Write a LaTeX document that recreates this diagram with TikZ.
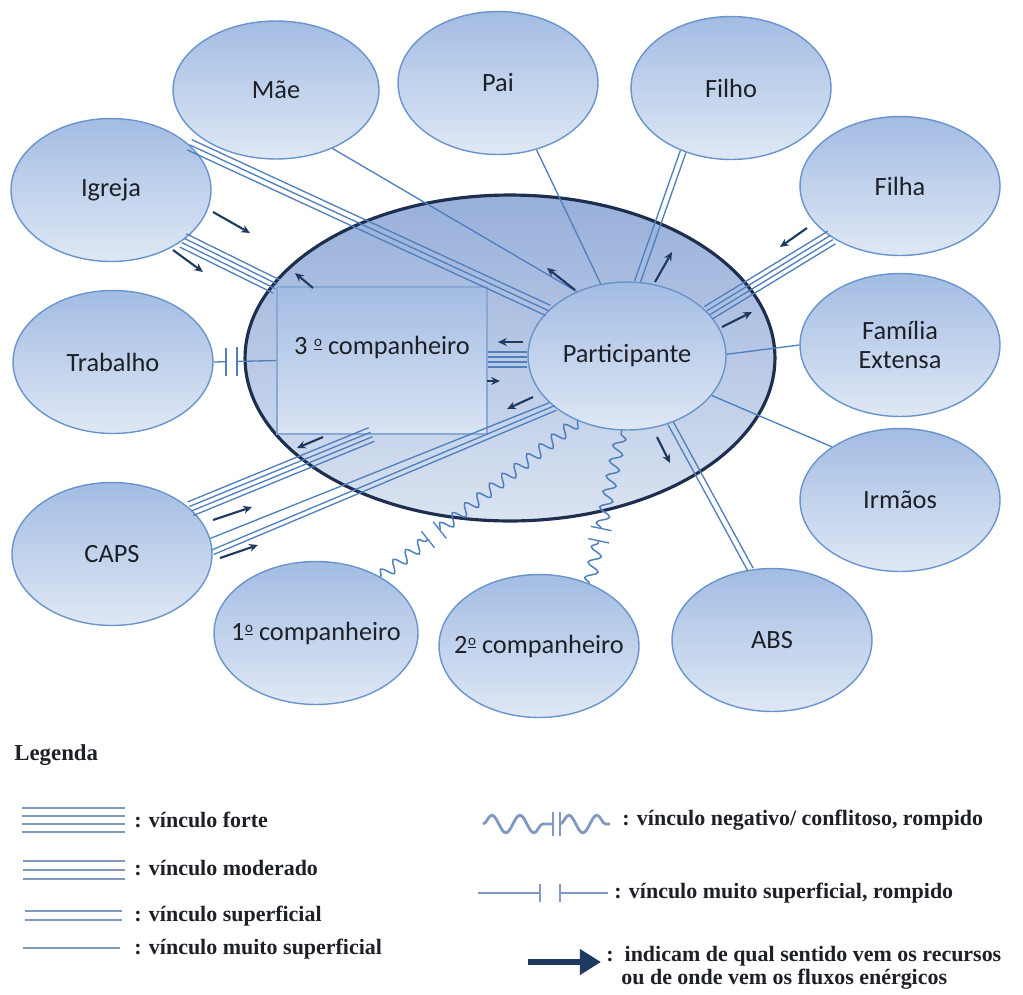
\documentclass[tikz,border=0pt]{standalone}
\usepackage{fontspec}
\setmainfont{Liberation Serif}
\newfontfamily\calib{Carlito}
\usepackage{tikz}
\usetikzlibrary{shapes.geometric, arrows.meta, calc, decorations.pathmorphing}

\definecolor{tieblue}{HTML}{4F7FBE}
\definecolor{rimblue}{HTML}{6A94CC}
\definecolor{fillhi}{HTML}{A3BCE3}
\definecolor{filllo}{HTML}{DFE8F5}
\definecolor{ringhi}{HTML}{97AFDA}
\definecolor{ringlo}{HTML}{DAE3F1}
\definecolor{ringline}{HTML}{1E2E4E}
\definecolor{navyarrow}{HTML}{1F3A60}
\definecolor{keyline}{HTML}{8199C0}
\definecolor{inktext}{HTML}{1E2028}

\newcommand{\ordo}{\raisebox{0.62ex}{\fontsize{8.5}{9}\selectfont\kern0.4pt\underline{o}}}

\begin{document}
\begin{tikzpicture}[x=0.02cm, y=-0.02cm,
        pers/.style = {ellipse, draw=rimblue, line width=0.8pt, top color=fillhi, bottom color=filllo,
                       minimum width=4cm, minimum height=2.86cm, inner ysep=0pt, inner xsep=-12pt, align=center,
                       font=\calib\fontsize{15}{17}\selectfont, text=inktext},
        tie/.style = {draw=tieblue, line width=0.75pt},
        flow/.style = {draw=navyarrow, line width=1.2pt, -{Stealth[length=5pt, width=4.5pt]}},
        conflict/.style = {tie, line width=0.85pt, decorate, decoration={snake, amplitude=3.4pt, segment length=9pt}},
        key/.style = {draw=keyline, line width=1.6pt},
        keytext/.style = {anchor=west, inner sep=0pt, font=\bfseries\fontsize{12.5}{15}\selectfont, text=inktext}]

        \fill[white] (0,0) rectangle (1023,994);
        \useasboundingbox (0,0) rectangle (1023,994);

        % Rede central
        \node[ellipse, draw=ringline, line width=1.8pt, top color=ringhi, bottom color=ringlo,
              minimum width=10.6cm, minimum height=6.52cm] (rede) at (510,358) {};
        \node[rectangle, draw=rimblue!80, line width=0.6pt, top color=fillhi, bottom color=filllo!90!fillhi,
              minimum width=4.2cm, minimum height=2.94cm, text height=10pt, text depth=17pt,
              font=\calib\fontsize{15}{17}\selectfont, text=inktext] (comp3) at (382,360.5) {3 \ordo\ companheiro};
        \node[pers, minimum width=3.96cm, minimum height=2.96cm] (part) at (627,356) {Participante};

        % Pessoas e instituições
        \node[pers, minimum width=4.12cm, minimum height=2.76cm] (mae) at (276,90) {Mãe};
        \node[pers] (pai) at (498,83) {Pai};
        \node[pers] (filho) at (731,88) {Filho};
        \node[pers] (igreja) at (111,190) {Igreja};
        \node[pers, minimum height=2.78cm] (filha) at (900,186) {Filha};
        \node[pers] (trab) at (113,362) {Trabalho};
        \node[pers] (famext) at (900,345) {Família\\Extensa};
        \node[pers] (irmaos) at (900,500) {Irmãos};
        \node[pers] (caps) at (112,554) {CAPS};
        \node[pers, minimum width=4.08cm] (comp1) at (316,633) {1\ordo\ companheiro};
        \node[pers] (comp2) at (539,646) {2\ordo\ companheiro};
        \node[pers] (abs) at (772,640) {ABS};

        % Vínculos
        \foreach \o in {-3.2,0,3.2}
            \draw[tie] ($(igreja.30)!\o pt!90:(part.150)$) -- ($(part.150)!\o pt!-90:(igreja.30)$);
        \foreach \o in {-4.2,-1.4,1.4,4.2}
            \draw[tie] ($(igreja.-35)!\o pt!90:(comp3.north west)$) -- ($(comp3.north west)!\o pt!-90:(igreja.-35)$);
        \draw[tie] (mae.-46) -- (part.128);
        \draw[tie] (pai.-60) -- (part.110);
        \foreach \o in {-1.7,1.7}
            \draw[tie] ($(filho.-127)!\o pt!90:(part.82)$) -- ($(part.82)!\o pt!-90:(filho.-127)$);
        \foreach \o in {-4.2,-1.4,1.4,4.2}
            \draw[tie] ($(filha.-143)!\o pt!90:(part.28)$) -- ($(part.28)!\o pt!-90:(filha.-143)$);
        \draw[tie] (famext.180) -- (part.1);
        \draw[tie] (irmaos.142) -- (part.-25);
        \foreach \o in {-1.7,1.7}
            \draw[tie] ($(abs.107)!\o pt!90:(part.-57)$) -- ($(part.-57)!\o pt!-90:(abs.107)$);
        \coordinate (capsend) at ($(comp3.south west)!0.45!(comp3.south east)$);
        \foreach \o in {-4.2,-1.4,1.4,4.2}
            \draw[tie] ($(caps.30)!\o pt!90:(capsend)$) -- ($(capsend)!\o pt!-90:(caps.30)$);
        \draw[tie] (caps.9) -- (part.-149);
        \foreach \o in {-1.4,1.4}
            \draw[tie] ($(caps.1)!\o pt!90:(part.-144)$) -- ($(part.-144)!\o pt!-90:(caps.1)$);
        \coordinate (compend) at (part.182 -| comp3.east);
        \foreach \o in {-4.2,-1.4,1.4,4.2}
            \draw[tie] ($(part.182)!\o pt!90:(compend)$) -- ($(compend)!\o pt!-90:(part.182)$);

        % Trabalho: vínculo rompido
        \coordinate (cut1) at ($(trab.east)!0.19!(comp3.west)$);
        \coordinate (cut2) at ($(trab.east)!0.375!(comp3.west)$);
        \draw[tie] (trab.east) -- (cut1);
        \draw[tie] (cut2) -- (comp3.west);
        \draw[tie, line width=1.2pt] ([yshift=-8pt]cut1) -- ([yshift=8pt]cut1);
        \draw[tie, line width=1.2pt] ([yshift=-8pt]cut2) -- ([yshift=8pt]cut2);

        % Conflitos rompidos
        \coordinate (z1a) at ($(comp1.41)!0.24!(part.-127)$);
        \coordinate (z1b) at ($(comp1.41)!0.30!(part.-127)$);
        \draw[conflict] (comp1.41) -- (z1a);
        \draw[conflict] (z1b) -- (part.-127);
        \draw[tie] ($(z1a)!6pt!90:(part.-127)$) -- ($(z1a)!6pt!-90:(part.-127)$);
        \draw[tie] ($(z1b)!6pt!90:(part.-127)$) -- ($(z1b)!6pt!-90:(part.-127)$);
        \coordinate (z2a) at ($(comp2.51)!0.28!(part.-94)$);
        \coordinate (z2b) at ($(comp2.51)!0.36!(part.-94)$);
        \draw[conflict] (comp2.51) -- (z2a);
        \draw[conflict] (z2b) -- (part.-94);
        \draw[tie] ($(z2a)!6pt!90:(part.-94)$) -- ($(z2a)!6pt!-90:(part.-94)$);
        \draw[tie] ($(z2b)!6pt!90:(part.-94)$) -- ($(z2b)!6pt!-90:(part.-94)$);

        % Fluxos
        \draw[flow] (213,212) -- (250,233);
        \draw[flow] (173,250) -- (203,272);
        \draw[flow] (313,288) -- (295,273);
        \draw[flow] (575,290) -- (547,268);
        \draw[flow] (655,282) -- (672,252);
        \draw[flow] (807,228) -- (780,247);
        \draw[flow] (722,327) -- (752,312);
        \draw[flow] (523,342) -- (498,342);
        \draw[flow] (487,381) -- (500,381);
        \draw[flow] (533,397) -- (507,409);
        \draw[flow] (323,437) -- (297,448);
        \draw[flow] (213,520) -- (252,507);
        \draw[flow] (220,558) -- (258,545);
        \draw[flow] (657,437) -- (670,463);

        % Legenda
        \node[keytext, font=\bfseries\fontsize{13}{15}\selectfont] (leg) at (14,755) {Legenda};
        \foreach \y in {808,816,824,832} \draw[key] (22,\y) -- (125,\y);
        \node[keytext] (lforte) at (134,820) {: vínculo forte};
        \foreach \y in {861,870,879} \draw[key] (23,\y) -- (125,\y);
        \node[keytext] (lmod) at (134,868) {: vínculo moderado};
        \foreach \y in {911,920} \draw[key] (25,\y) -- (122,\y);
        \node[keytext] (lsup) at (134,916) {: vínculo superficial};
        \draw[key] (23,948) -- (120,948);
        \node[keytext] (lmsup) at (134,949) {: vínculo muito superficial};

        \draw[key, decorate, decoration={snake, amplitude=5pt, segment length=16pt}] (483,824) -- (553,824);
        \draw[key] (553,812) -- (553,836);
        \draw[key] (560,812) -- (560,836);
        \draw[key, decorate, decoration={snake, amplitude=5pt, segment length=16pt}] (560,824) -- (610,824);
        \node[keytext] (lneg) at (622,820) {: vínculo negativo/ conflitoso, rompido};
        \draw[key] (478,893) -- (540,893);
        \draw[key] (540,884) -- (540,902);
        \draw[key] (560,884) -- (560,902);
        \draw[key] (560,893) -- (608,893);
        \node[keytext] (lromp) at (614,893) {: vínculo muito superficial, rompido};
        \draw[draw=navyarrow, line width=3.4pt, -{Triangle[length=12pt, width=14pt]}] (528,962) -- (601,962);
        \node[keytext] (lflux) at (606,956) {:\ \ indicam de qual sentido vem os recursos};
        \node[keytext] (lflux2) at (621,979) {ou de onde vem os fluxos enérgicos};
\end{tikzpicture}
\end{document}
